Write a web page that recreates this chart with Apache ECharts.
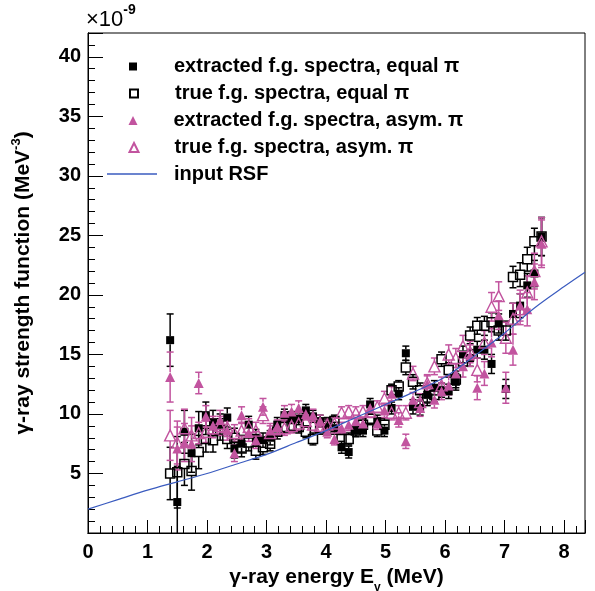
<!DOCTYPE html>
<html>
<head>
<meta charset="utf-8">
<script src="https://cdn.jsdelivr.net/npm/echarts@6/dist/echarts.min.js"></script>
<style>
html,body{margin:0;padding:0;background:#fff;}
#chart{width:595px;height:591px;}
</style>
</head>
<body>
<div id="chart"></div>
<script>
// ---- data (values in units of 1e-9 MeV^-3) ----
const energies = [1.38,1.50,1.62,1.74,1.86,1.98,2.10,2.22,2.34,2.46,2.58,2.70,2.82,2.94,3.06,3.18,3.30,3.42,3.54,3.66,3.78,3.90,4.02,4.14,4.26,4.38,4.50,4.62,4.74,4.86,4.98,5.10,5.22,5.34,5.46,5.58,5.70,5.82,5.94,6.06,6.18,6.30,6.42,6.54,6.66,6.78,6.90,7.02,7.14,7.26,7.38,7.50,7.62];
const extractedEqual = [16.2,2.6,8.5,6.7,8.8,9.9,9.3,9.1,9.7,7.1,7.5,9.1,8.0,7.8,8.0,9.1,9.9,9.7,9.6,10.3,9.8,9.4,8.9,8.8,7.2,6.8,8.6,8.6,10.8,9.4,8.6,10.5,11.7,15.1,10.6,10.5,11.6,12.2,12.0,11.9,12.7,15.0,14.7,15.4,15.4,14.2,17.6,12.1,18.4,19.1,20.8,21.8,24.9];
const trueEqual = [5.0,5.1,5.8,5.2,6.8,7.9,7.8,8.7,7.9,8.0,7.1,7.6,6.9,7.2,7.5,8.5,8.9,9.0,8.9,8.5,7.9,8.8,9.2,9.4,7.9,7.9,8.6,9.1,9.6,8.6,9.1,12.0,12.3,13.9,12.7,12.0,11.3,11.6,14.6,13.7,12.9,14.4,16.6,17.4,17.4,17.7,17.0,17.0,21.5,21.7,23.0,24.5,24.9];
const extractedAsym = [13.1,7.1,7.6,7.5,12.6,9.8,9.0,9.5,8.6,6.7,9.9,8.4,7.8,10.6,8.6,8.9,10.1,10.2,10.5,10.0,9.9,9.4,8.5,7.9,8.8,9.1,9.4,9.2,10.5,9.2,10.3,11.7,9.5,7.7,11.2,10.5,12.5,11.2,11.9,12.4,13.4,14.0,14.9,12.2,13.4,16.0,18.3,12.2,15.4,19.1,18.8,21.1,24.3];
const trueAsym = [8.2,7.6,8.8,8.2,8.4,8.5,8.8,9.0,8.9,8.4,8.6,8.9,8.6,9.9,8.4,8.8,8.8,9.0,9.2,9.4,9.1,9.0,9.1,9.2,10.1,10.2,10.1,10.2,10.2,10.6,11.3,10.1,10.1,10.1,13.4,11.0,12.6,14.0,12.4,15.0,14.7,15.7,15.2,13.7,16.0,19.0,19.9,16.4,18.0,18.8,20.2,22.0,24.5];
const errEqual = [2.2,3.0,1.8,1.6,1.4,1.1,1.0,0.9,0.8,0.8,0.7,0.7,0.7,0.6,0.6,0.6,0.5,0.5,0.5,0.5,0.5,0.5,0.5,0.5,0.5,0.5,0.5,0.5,0.5,0.5,0.5,0.5,0.5,0.6,0.6,0.6,0.6,0.6,0.6,0.6,0.7,0.7,0.7,0.7,0.8,0.8,0.8,0.8,0.9,1.0,1.0,1.1,1.6];
const errAsym = [2.1,1.8,1.6,1.5,0.9,0.9,0.8,0.8,0.8,0.7,0.7,0.7,0.7,0.7,0.6,0.6,0.6,0.6,0.6,0.5,0.5,0.5,0.5,0.5,0.5,0.5,0.5,0.5,0.5,0.5,0.6,0.6,0.6,0.6,0.6,0.7,0.7,0.7,0.7,0.8,0.8,0.9,0.9,1.0,1.0,1.2,1.2,1.3,1.3,1.3,1.4,1.5,2.0];
const rsfEnergy = [0,0.5,1,1.5,2,2.5,3,3.5,4,4.5,5,5.5,6,6.5,7,7.5,8,8.35];
const rsfValue = [2.0,2.8,3.6,4.3,5.0,5.8,6.6,7.6,8.6,9.7,10.8,11.9,13.1,14.9,16.8,18.9,20.7,21.9];
const seriesNames = ['extracted f.g. spectra, equal π','true f.g. spectra, equal π','extracted f.g. spectra, asym. π','true f.g. spectra, asym. π','input RSF'];

const FONT = '"Liberation Sans", Arial, Helvetica, sans-serif';
const MAG = '#c2549f';
const BLACK = '#000000';
const BLUE = '#3a5bbf';

function errorBars(ys, errs, color, halfGap) {
  return {
    type: 'custom',
    clip: true,
    silent: true,
    encode: {x: 0, y: 1},
    data: energies.map((x, i) => [x, ys[i], errs[i]]),
    renderItem: function (params, api) {
      const x = api.value(0), y = api.value(1), e = api.value(2);
      const c = api.coord([x, y]);
      const t = api.coord([x, y + e]);
      const b = api.coord([x, y - e]);
      const st = {stroke: color, lineWidth: 1.5};
      const kids = [];
      if (c[1] - halfGap > t[1]) kids.push({type: 'line', shape: {x1: c[0], y1: t[1], x2: c[0], y2: c[1] - halfGap}, style: st});
      if (c[1] + halfGap < b[1]) kids.push({type: 'line', shape: {x1: c[0], y1: c[1] + halfGap, x2: c[0], y2: b[1]}, style: st});
      kids.push({type: 'line', shape: {x1: c[0] - 3.5, y1: t[1], x2: c[0] + 3.5, y2: t[1]}, style: st});
      kids.push({type: 'line', shape: {x1: c[0] - 3.5, y1: b[1], x2: c[0] + 3.5, y2: b[1]}, style: st});
      return {type: 'group', children: kids};
    }
  };
}

function pts(ys) { return energies.map((x, i) => [x, ys[i]]); }

const legendText = {fontFamily: FONT, fontSize: 20, fontWeight: 'bold', color: '#000', lineHeight: 22};
function legendAt(item, left, top, w, h, padLeft) {
  return {
    data: [item],
    left: left, top: top, padding: 0,
    itemWidth: w, itemHeight: h,
    selectedMode: false,
    textStyle: Object.assign({padding: [0, 0, 0, padLeft]}, legendText)
  };
}

const chart = echarts.init(document.getElementById('chart'), null, {renderer: 'canvas'});
const grid = {left: 88, top: 33, width: 497, height: 500, show: true, borderColor: '#000', borderWidth: 1,
              backgroundColor: 'transparent', containLabel: false, outerBoundsMode: 'none'};

const axisLabelStyle = {fontFamily: FONT, fontSize: 20, fontWeight: 'bold', color: '#000'};

const option = {
  animation: false,
  backgroundColor: '#fff',
  grid: grid,
  xAxis: [
    {type: 'value', min: 0, max: 8.35, interval: 0.2, position: 'bottom',
     axisLine: {show: true, lineStyle: {color: '#000', width: 1}},
     axisTick: {show: true, inside: true, length: 7, lineStyle: {color: '#000', width: 1}},
     axisLabel: {show: false}, splitLine: {show: false}},
    {type: 'value', min: 0, max: 8.35, interval: 1, position: 'bottom',
     axisLine: {show: true, lineStyle: {color: '#000', width: 1}},
     axisTick: {show: true, inside: true, length: 13, lineStyle: {color: '#000', width: 1}},
     axisLabel: Object.assign({margin: 9, formatter: v => (Number.isInteger(v) ? String(v) : '')}, axisLabelStyle),
     splitLine: {show: false},
     name: '{a|γ-ray energy E}{b|γ}{a| (MeV)}',
     nameLocation: 'middle', nameGap: 31,
     nameTextStyle: {rich: {
       a: {fontFamily: FONT, fontSize: 21, fontWeight: 'bold', color: '#000', lineHeight: 22, verticalAlign: 'top'},
       b: {fontFamily: FONT, fontSize: 12, fontWeight: 'bold', color: '#000', lineHeight: 27, verticalAlign: 'bottom'}
     }}}
  ],
  yAxis: [
    {type: 'value', min: 0, max: 42, interval: 1, position: 'left',
     axisLine: {show: true, lineStyle: {color: '#000', width: 1}},
     axisTick: {show: true, inside: true, length: 7, lineStyle: {color: '#000', width: 1}},
     axisLabel: {show: false}, splitLine: {show: false}},
    {type: 'value', min: 0, max: 42, interval: 5, position: 'left',
     axisLine: {show: true, lineStyle: {color: '#000', width: 1}},
     axisTick: {show: true, inside: true, length: 15, lineStyle: {color: '#000', width: 1}},
     axisLabel: Object.assign({margin: 7, formatter: v => (v > 0 && v % 5 === 0 ? String(v) : '')}, axisLabelStyle),
     splitLine: {show: false},
     name: '{a|γ-ray strength function (MeV}{s|-3}{a|)}',
     nameLocation: 'middle', nameGap: 54, nameRotate: 90,
     nameTextStyle: {rich: {
       a: {fontFamily: FONT, fontSize: 21, fontWeight: 'bold', color: '#000', lineHeight: 24, verticalAlign: 'bottom'},
       s: {fontFamily: FONT, fontSize: 13, fontWeight: 'bold', color: '#000', lineHeight: 14, verticalAlign: 'top'}
     }}}
  ],
  legend: [
    legendAt({name: seriesNames[0], icon: 'rect'}, 129, 55.5, 8, 8, 32),
    legendAt({name: seriesNames[1], icon: 'rect'}, 129, 82.5, 8, 8, 32),
    legendAt({name: seriesNames[2], icon: 'triangle'}, 128.5, 109.5, 9, 9, 31),
    legendAt({name: seriesNames[3], icon: 'triangle'}, 128.5, 136.5, 9, 9, 31),
    legendAt({name: seriesNames[4], icon: 'rect', itemStyle: {color: BLUE, borderWidth: 0}}, 107, 163, 50, 1.5, 12)
  ],
  graphic: [
    {type: 'text', left: 86, top: 3, style: {
      text: '{a|×10}{s|-9}',
      rich: {
        a: {fontFamily: FONT, fontSize: 22, fontWeight: 'normal', fill: '#000', lineHeight: 28, verticalAlign: 'bottom'},
        s: {fontFamily: FONT, fontSize: 14, fontWeight: 'bold', fill: '#000', lineHeight: 14, verticalAlign: 'top'}
      }}}
  ],
  series: [
    Object.assign(errorBars(extractedEqual, errEqual, BLACK, 4), {xAxisIndex: 1, yAxisIndex: 1}),
    {name: seriesNames[0], type: 'scatter', xAxisIndex: 1, yAxisIndex: 1, symbol: 'rect', symbolSize: 8,
     itemStyle: {color: BLACK, opacity: 1}, data: pts(extractedEqual), clip: true},
    Object.assign(errorBars(trueEqual, errEqual, BLACK, 4.5), {xAxisIndex: 1, yAxisIndex: 1}),
    {name: seriesNames[1], type: 'scatter', xAxisIndex: 1, yAxisIndex: 1, symbol: 'rect', symbolSize: 9,
     itemStyle: {color: 'rgba(255,255,255,0)', borderColor: BLACK, borderWidth: 1.5, opacity: 1}, data: pts(trueEqual), clip: true},
    Object.assign(errorBars(extractedAsym, errAsym, MAG, 5), {xAxisIndex: 1, yAxisIndex: 1}),
    {name: seriesNames[2], type: 'scatter', xAxisIndex: 1, yAxisIndex: 1, symbol: 'triangle', symbolSize: 10,
     itemStyle: {color: MAG, opacity: 1}, data: pts(extractedAsym), clip: true},
    Object.assign(errorBars(trueAsym, errAsym, MAG, 5.5), {xAxisIndex: 1, yAxisIndex: 1}),
    {name: seriesNames[3], type: 'scatter', xAxisIndex: 1, yAxisIndex: 1, symbol: 'triangle', symbolSize: 11,
     itemStyle: {color: 'rgba(255,255,255,0)', borderColor: MAG, borderWidth: 1.4, opacity: 1}, data: pts(trueAsym), clip: true},
    {name: seriesNames[4], type: 'line', xAxisIndex: 1, yAxisIndex: 1, smooth: 0.3, showSymbol: false, symbol: 'none',
     legendIcon: 'rect',
     lineStyle: {color: BLUE, width: 1.2}, itemStyle: {color: BLUE},
     data: rsfEnergy.map((x, i) => [x, rsfValue[i]]), z: 3}
  ]
};
chart.setOption(option);
</script>
</body>
</html>
